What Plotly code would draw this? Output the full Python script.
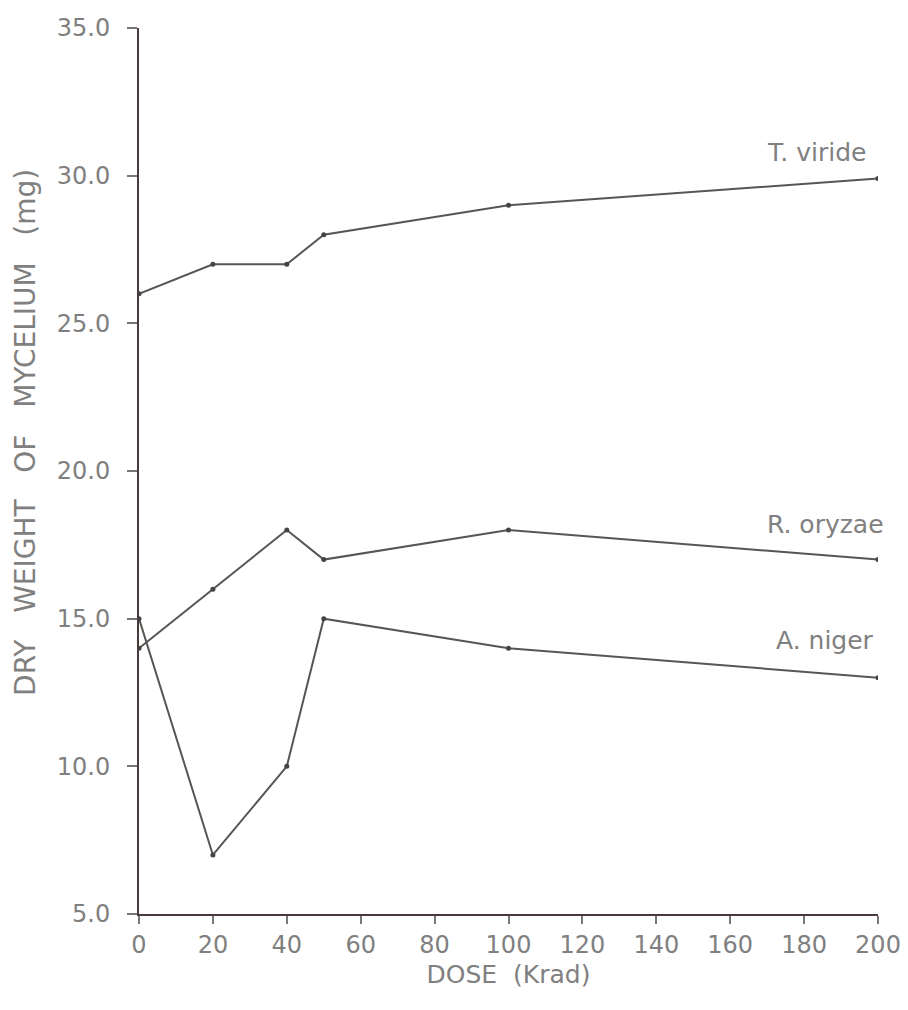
import plotly.graph_objects as go

# Irradiation dose (Krad) and dry weight of mycelium (mg) per fungus
dose = [0, 20, 40, 50, 100, 200]
t_viride = [26, 27, 27, 28, 29, 29.9]
r_oryzae = [14, 16, 18, 17, 18, 17]
a_niger = [15, 7, 10, 15, 14, 13]

series_names = ["T. viride", "R. oryzae", "A. niger"]
series_values = [t_viride, r_oryzae, a_niger]

x_ticks = [0, 20, 40, 60, 80, 100, 120, 140, 160, 180, 200]
y_ticks = [5, 10, 15, 20, 25, 30, 35]

LINE = "#5a5555"
AXIS = "#4a3a3a"
TEXT = "#808080"
FONT = "DejaVu Sans"

fig = go.Figure()
for name, vals in zip(series_names, series_values):
    fig.add_trace(go.Scatter(
        x=dose, y=vals, mode="lines+markers", name=name,
        line=dict(color=LINE, width=2),
        marker=dict(color="#444", size=5),
        showlegend=False,
    ))

# series labels near the right end of each curve
label_pos = {"T. viride": (30.8, -10), "R. oryzae": (18.2, 8), "A. niger": (14.25, -2)}
for name in series_names:
    yv, xs = label_pos[name]
    fig.add_annotation(x=200, y=yv, text=name, showarrow=False,
                       xanchor="right", yanchor="middle", xshift=xs,
                       font=dict(family=FONT, size=25, color=TEXT))

# vertical axis title
fig.add_annotation(xref="paper", yref="paper", x=0, y=0.543, xshift=-113,
                   text="DRY   WEIGHT   OF   MYCELIUM   (mg)", textangle=-90,
                   showarrow=False, xanchor="center", yanchor="middle",
                   font=dict(family=FONT, size=28, color=TEXT))

fig.update_layout(
    width=908, height=1010,
    margin=dict(l=139, r=30, t=28, b=96),
    paper_bgcolor="white", plot_bgcolor="white",
    font=dict(family=FONT, color=TEXT),
)
fig.update_xaxes(
    range=[0, 200], tickvals=x_ticks, ticktext=[str(v) for v in x_ticks],
    showgrid=False, zeroline=False, showline=True, linecolor=AXIS, linewidth=2,
    ticks="outside", ticklen=8, tickwidth=1.5, tickcolor="#777",
    tickfont=dict(family=FONT, size=24, color=TEXT), automargin=False,
    title=dict(text="DOSE  (Krad)", font=dict(family=FONT, size=25, color=TEXT), standoff=8),
)
fig.update_yaxes(
    range=[5, 35], tickvals=y_ticks, ticktext=[f"{v:.1f}" for v in y_ticks],
    showgrid=False, zeroline=False, showline=True, linecolor=AXIS, linewidth=2,
    ticks="outside", ticklen=10, tickwidth=1.5, tickcolor="#777",
    ticklabelstandoff=12, automargin=False,
    tickfont=dict(family=FONT, size=24, color=TEXT),
)

fig.write_html("out.html")
